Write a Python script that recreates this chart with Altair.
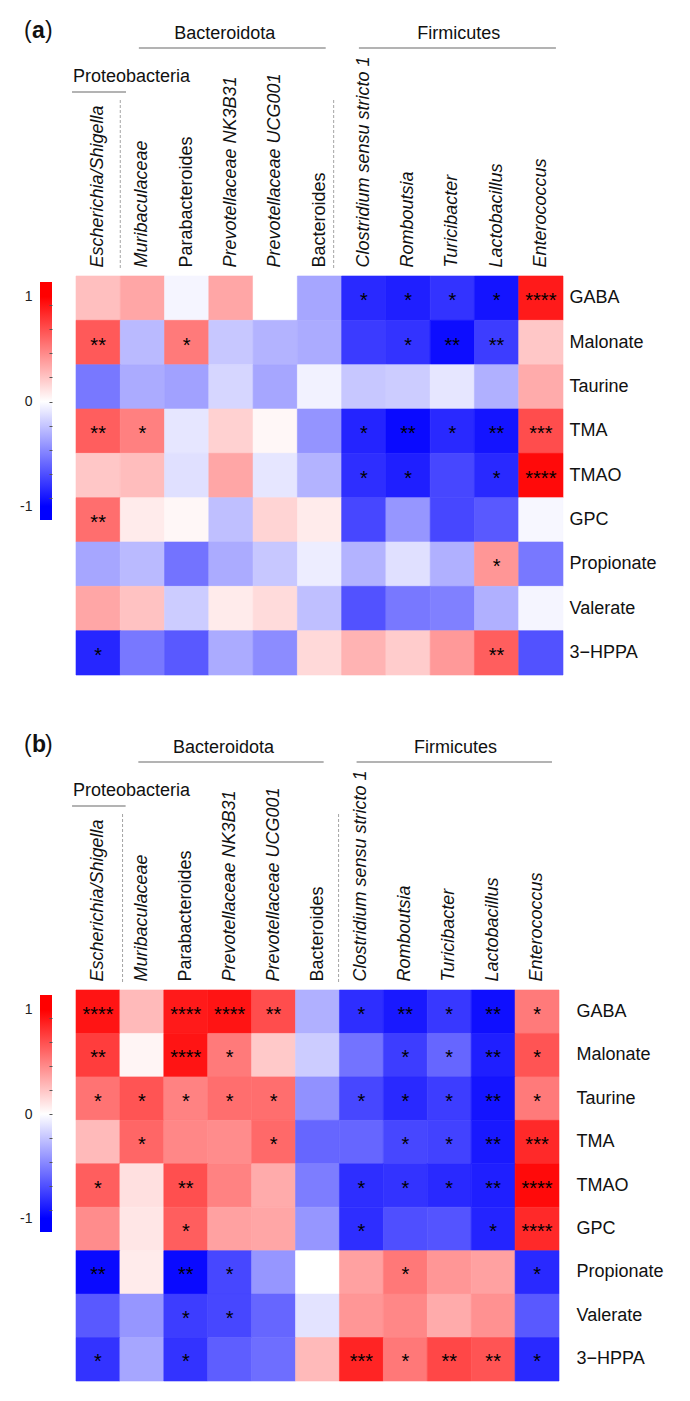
import altair as alt
import pandas as pd

FONT = "Liberation Sans"

taxa = ["Escherichia/Shigella", "Muribaculaceae", "Parabacteroides", "Prevotellaceae NK3B31",
        "Prevotellaceae UCG001", "Bacteroides", "Clostridium sensu stricto 1", "Romboutsia",
        "Turicibacter", "Lactobacillus", "Enterococcus"]
upright_taxa = ["Parabacteroides", "Bacteroides"]
metabolites = ["GABA", "Malonate", "Taurine", "TMA", "TMAO", "GPC", "Propionate", "Valerate", "3\u2212HPPA"]

group_labels = ["Bacteroidota", "Firmicutes", "Proteobacteria"]
group_first = ["Muribaculaceae", "Clostridium sensu stricto 1", "Escherichia/Shigella"]
group_last = ["Bacteroides", "Enterococcus", "Escherichia/Shigella"]

# colour bar
cbar_limits = [-1.13, 1.14]
cbar_labels = [-1, 0, 1]
cbar_ticks = [-0.92, -0.69, -0.46, -0.23, 0, 0.23, 0.46, 0.69, 0.92]

# correlation coefficients, panel (a)
values_a = [
    [0.25, 0.35, -0.04, 0.35, 0.00, -0.35, -0.84, -0.88, -0.80, -0.92, 0.90],
    [0.65, -0.27, 0.52, -0.22, -0.30, -0.33, -0.77, -0.80, -0.95, -0.76, 0.22],
    [-0.53, -0.33, -0.37, -0.16, -0.35, -0.05, -0.22, -0.20, -0.10, -0.31, 0.33],
    [0.63, 0.50, -0.10, 0.18, 0.03, -0.42, -0.86, -0.96, -0.84, -0.92, 0.70],
    [0.22, 0.26, -0.12, 0.35, -0.10, -0.30, -0.82, -0.88, -0.72, -0.84, 0.96],
    [0.57, 0.08, 0.03, -0.25, 0.17, 0.08, -0.72, -0.41, -0.72, -0.65, -0.03],
    [-0.35, -0.27, -0.55, -0.33, -0.22, -0.07, -0.30, -0.12, -0.31, 0.41, -0.53],
    [0.35, 0.24, -0.20, 0.08, 0.14, -0.25, -0.68, -0.53, -0.50, -0.31, -0.04],
    [-0.85, -0.53, -0.65, -0.33, -0.45, 0.15, 0.30, 0.20, 0.40, 0.63, -0.68],
]
stars_a = [
    ["", "", "", "", "", "", "*", "*", "*", "*", "****"],
    ["**", "", "*", "", "", "", "", "*", "**", "**", ""],
    ["", "", "", "", "", "", "", "", "", "", ""],
    ["**", "*", "", "", "", "", "*", "**", "*", "**", "***"],
    ["", "", "", "", "", "", "*", "*", "", "*", "****"],
    ["**", "", "", "", "", "", "", "", "", "", ""],
    ["", "", "", "", "", "", "", "", "", "*", ""],
    ["", "", "", "", "", "", "", "", "", "", ""],
    ["*", "", "", "", "", "", "", "", "", "**", ""],
]

# correlation coefficients, panel (b)
values_b = [
    [0.92, 0.27, 0.90, 0.92, 0.70, -0.31, -0.82, -0.90, -0.78, -0.94, 0.52],
    [0.76, 0.04, 0.92, 0.52, 0.21, -0.20, -0.55, -0.76, -0.60, -0.88, 0.67],
    [0.55, 0.67, 0.49, 0.57, 0.57, -0.43, -0.72, -0.84, -0.76, -0.92, 0.52],
    [0.27, 0.60, 0.47, 0.45, 0.59, -0.60, -0.60, -0.72, -0.74, -0.90, 0.84],
    [0.63, 0.12, 0.69, 0.49, 0.33, -0.51, -0.82, -0.80, -0.84, -0.88, 0.96],
    [0.45, 0.10, 0.63, 0.37, 0.35, -0.41, -0.82, -0.69, -0.67, -0.86, 0.84],
    [-0.96, 0.08, -0.96, -0.72, -0.41, 0.00, 0.37, 0.53, 0.41, 0.37, -0.84],
    [-0.65, -0.41, -0.76, -0.72, -0.60, -0.11, 0.41, 0.47, 0.33, 0.43, -0.65],
    [-0.80, -0.35, -0.80, -0.63, -0.57, 0.27, 0.86, 0.53, 0.72, 0.67, -0.84],
]
stars_b = [
    ["****", "", "****", "****", "**", "", "*", "**", "*", "**", "*"],
    ["**", "", "****", "*", "", "", "", "*", "*", "**", "*"],
    ["*", "*", "*", "*", "*", "", "*", "*", "*", "**", "*"],
    ["", "*", "", "", "*", "", "", "*", "*", "**", "***"],
    ["*", "", "**", "", "", "", "*", "*", "*", "**", "****"],
    ["", "", "*", "", "", "", "*", "", "", "*", "****"],
    ["**", "", "**", "*", "", "", "", "*", "", "", "*"],
    ["", "", "*", "*", "", "", "", "", "", "", ""],
    ["*", "", "*", "", "", "", "***", "*", "**", "**", "*"],
]

# ---------------- styling (not data) ----------------
line_start_shift = {"Bacteroidota": 0.42, "Firmicutes": 0.39, "Proteobacteria": -0.09}
line_end_shift = {"Bacteroidota": 0.64, "Firmicutes": 0.84, "Proteobacteria": 1.13}
text_shift = {"Bacteroidota": -0.17, "Firmicutes": 0.03, "Proteobacteria": 0.0}
upper_groups = ["Bacteroidota", "Firmicutes"]
BLUE, WHITE, RED = "#0000ff", "#ffffff", "#ff0000"

color_scale = alt.Scale(domain=[cbar_limits[0], -1, 0, 1, cbar_limits[1]],
                        range=[BLUE, BLUE, WHITE, RED, RED], interpolate="rgb")

span = cbar_limits[1] - cbar_limits[0]
def _off(v):
    return (cbar_limits[1] - v) / span
cbar_fill = alt.LinearGradient(
    gradient="linear", x1=0, x2=0, y1=0, y2=1,
    stops=[alt.GradientStop(color=RED, offset=0),
           alt.GradientStop(color=RED, offset=_off(1)),
           alt.GradientStop(color=WHITE, offset=_off(0)),
           alt.GradientStop(color=BLUE, offset=_off(-1)),
           alt.GradientStop(color=BLUE, offset=1)])

italic_expr = ("indexof([" + ",".join("'" + t + "'" for t in upright_taxa) +
               "], datum.value) >= 0 ? 'normal' : 'italic'")
label_expr = ("indexof([" + ",".join(str(v) for v in cbar_labels) +
              "], datum.value) >= 0 ? '' + datum.value : ''")
tick_expr = ("indexof([" + ",".join(str(v) for v in cbar_ticks) +
             "], datum.value) >= 0 ? 1 : 0")


def panel(tag, values, stars, w, h, row_pad, cb_top, cb_len, sep_shift):
    recs = []
    for i, m in enumerate(metabolites):
        for j, t in enumerate(taxa):
            recs.append({"metabolite": m, "taxon": t, "r": values[i][j], "stars": stars[i][j]})
    df = pd.DataFrame(recs)

    xenc = alt.X("taxon:N", sort=taxa,
                 scale=alt.Scale(type="band", paddingInner=0, paddingOuter=0),
                 axis=alt.Axis(orient="top", labelAngle=270, labelAlign="left", labelBaseline="middle",
                               labelPadding=9, ticks=False, domain=False, labelFont=FONT,
                               labelFontSize=18, labelColor="#111111", labelLimit=0,
                               labelFontStyle=alt.ExprRef(expr=italic_expr), title=None))
    yenc = alt.Y("metabolite:N", sort=metabolites,
                 scale=alt.Scale(type="band", paddingInner=0, paddingOuter=0),
                 axis=alt.Axis(orient="right", ticks=False, domain=False, labelPadding=row_pad,
                               labelFont=FONT, labelFontSize=18, labelColor="#111111",
                               labelLimit=0, title=None))

    heat = alt.Chart(df).mark_rect(strokeWidth=0.6).encode(
        x=xenc, y=yenc,
        color=alt.Color("r:Q", scale=color_scale, legend=None),
        stroke=alt.Stroke("r:Q", scale=color_scale, legend=None),
    )
    star_layer = alt.Chart(df).mark_text(font=FONT, fontSize=20, color="#000000",
                                         baseline="alphabetic", dy=9).encode(
        x=alt.X("taxon:N", sort=taxa), y=alt.Y("metabolite:N", sort=metabolites),
        text="stars:N")
    grid = alt.layer(heat, star_layer)

    # colour bar (drawn with the colour scale's limits on its own axis)
    cb = pd.DataFrame({"lo": [cbar_limits[0]], "hi": [cbar_limits[1]]})
    cbar = alt.Chart(cb).mark_rect(fill=cbar_fill).encode(
        x=alt.value(-36), x2=alt.value(-24),
        y=alt.Y("hi:Q",
                scale=alt.Scale(domain=cbar_limits, range=[cb_top + cb_len, cb_top], nice=False,
                                zero=False),
                axis=alt.Axis(orient="left", offset=24, values=sorted(set(cbar_ticks + cbar_labels)),
                              labelExpr=label_expr, labelOverlap=False, domain=False, grid=False,
                              ticks=True, tickSize=3, tickColor="#555555", tickWidth=1,
                              tickOpacity=alt.ExprRef(expr=tick_expr),
                              labelPadding=17, labelFont=FONT, labelFontSize=14,
                              labelColor="#222222", title=None, zindex=1)),
        y2="lo:Q")

    # phylum headers
    grp = pd.DataFrame({"group": group_labels, "first": group_first, "last": group_last})
    grp["x0"] = [taxa.index(f) + line_start_shift[g] for f, g in zip(grp["first"], grp["group"])]
    grp["x1"] = [taxa.index(l) + line_end_shift[g] for l, g in zip(grp["last"], grp["group"])]
    grp["xm"] = (grp["x0"] + grp["x1"]) / 2 + grp["group"].map(text_shift)
    xs = alt.Scale(domain=[0, len(taxa)])
    upper = alt.Chart(grp).transform_filter(
        alt.FieldOneOfPredicate(field="group", oneOf=upper_groups))
    lower = alt.Chart(grp).transform_filter(
        alt.FieldOneOfPredicate(field="group", oneOf=["Proteobacteria"]))
    up_rule = upper.mark_rule(color="#9a9a9a", strokeWidth=1.3).encode(
        x=alt.X("x0:Q", scale=xs, axis=None), x2="x1:Q", y=alt.value(-228))
    up_text = upper.mark_text(font=FONT, fontSize=18, color="#111111", baseline="middle").encode(
        x=alt.X("xm:Q", scale=xs, axis=None), y=alt.value(-242), text="group:N")
    lo_rule = lower.mark_rule(color="#9a9a9a", strokeWidth=1.3).encode(
        x=alt.X("x0:Q", scale=xs, axis=None), x2="x1:Q", y=alt.value(-184))
    lo_text = lower.mark_text(font=FONT, fontSize=18, color="#111111", baseline="middle",
                              align="left", dx=1).encode(
        x=alt.X("x0:Q", scale=xs, axis=None), y=alt.value(-199), text="group:N")

    # dashed separators between phyla
    sep = pd.DataFrame({"after": ["Escherichia/Shigella", "Bacteroides"]})
    sep["xb"] = [taxa.index(a) + 1 + s for a, s in zip(sep["after"], sep_shift)]
    sep_rule = alt.Chart(sep).mark_rule(color="#9a9a9a", strokeWidth=0.9, strokeDash=[3, 2]).encode(
        x=alt.X("xb:Q", scale=xs, axis=None), y=alt.value(-176), y2=alt.value(-8))

    lab = pd.DataFrame({"tag": [tag]})
    lab_l = alt.Chart(lab).mark_text(text="(", font=FONT, fontSize=23, align="left",
                                     baseline="middle", color="#111111").encode(
        x=alt.value(-52), y=alt.value(-245))
    lab_m = alt.Chart(lab).mark_text(font=FONT, fontSize=23, fontWeight="bold", align="left",
                                     baseline="middle", color="#111111").encode(
        x=alt.value(-44), y=alt.value(-245), text="tag:N")
    lab_r = alt.Chart(lab).mark_text(text=")", font=FONT, fontSize=23, align="left",
                                     baseline="middle", color="#111111").encode(
        x=alt.value(-31), y=alt.value(-245))

    return alt.layer(grid, cbar, up_rule, up_text, lo_rule, lo_text, sep_rule,
                     lab_l, lab_m, lab_r).resolve_scale(x="independent", y="independent").properties(
        width=w, height=h)


pa = panel("a", values_a, stars_a, 487, 399, 6, 6, 238, [0.0, -0.18])
pb = panel("b", values_b, stars_b, 483, 391, 17, 5, 237, [0.06, -0.02])

chart = alt.vconcat(pa, pb, spacing=58).resolve_scale(
    color="independent", stroke="independent"
).configure_view(stroke=None).properties(
    padding={"left": 11, "top": 12, "right": 5, "bottom": 5}, background="white"
)

chart.save("out.html", embed_options={"renderer": "svg", "actions": False})
